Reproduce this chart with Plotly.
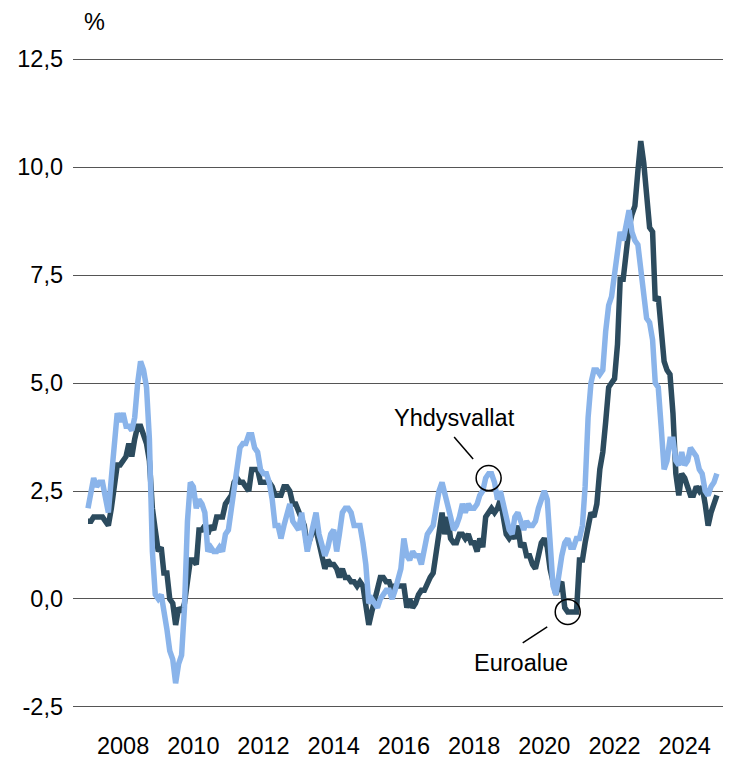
import pandas as pd
import plotly.graph_objects as go

# Monthly data, Jan 2007 - Dec 2024 (annual % change)
months = pd.date_range("2007-01-01", "2024-12-01", freq="MS")

euro_area = [
    1.8, 1.8, 1.9, 1.9, 1.9, 1.9, 1.8, 1.7, 2.1, 2.6, 3.1, 3.1,      # 2007
    3.2, 3.3, 3.6, 3.3, 3.7, 4.0, 4.0, 3.8, 3.6, 3.2, 2.1, 1.6,      # 2008
    1.1, 1.2, 0.6, 0.6, 0.0, -0.1, -0.6, -0.2, -0.3, -0.1, 0.5, 0.9, # 2009
    0.9, 0.8, 1.6, 1.6, 1.7, 1.5, 1.7, 1.6, 1.9, 1.9, 1.9, 2.2,      # 2010
    2.3, 2.4, 2.7, 2.8, 2.7, 2.7, 2.6, 2.5, 3.0, 3.0, 3.0, 2.7,      # 2011
    2.7, 2.7, 2.7, 2.6, 2.4, 2.4, 2.4, 2.6, 2.6, 2.5, 2.2, 2.2,      # 2012
    2.0, 1.8, 1.7, 1.2, 1.4, 1.6, 1.6, 1.3, 1.1, 0.7, 0.9, 0.8,      # 2013
    0.8, 0.7, 0.5, 0.7, 0.5, 0.5, 0.4, 0.4, 0.3, 0.4, 0.3, -0.2,     # 2014
    -0.6, -0.3, 0.0, 0.3, 0.5, 0.5, 0.4, 0.4, 0.2, 0.3, 0.3, 0.3,    # 2015
    0.3, -0.2, 0.0, -0.2, -0.1, 0.1, 0.2, 0.2, 0.4, 0.5, 0.6, 1.1,   # 2016
    1.7, 2.0, 1.5, 1.9, 1.4, 1.3, 1.3, 1.5, 1.5, 1.4, 1.5, 1.3,      # 2017
    1.3, 1.1, 1.4, 1.2, 1.9, 2.0, 2.1, 2.0, 2.1, 2.3, 1.9, 1.5,      # 2018
    1.4, 1.5, 1.4, 1.7, 1.2, 1.3, 1.0, 1.0, 0.8, 0.7, 1.0, 1.3,      # 2019
    1.4, 1.2, 0.7, 0.3, 0.1, 0.3, 0.4, -0.2, -0.3, -0.3, -0.3, -0.3, # 2020
    0.9, 0.9, 1.3, 1.6, 2.0, 1.9, 2.2, 3.0, 3.4, 4.1, 4.9, 5.0,      # 2021
    5.1, 5.9, 7.4, 7.4, 8.1, 8.6, 8.9, 9.1, 9.9, 10.6, 10.1, 9.2,    # 2022
    8.6, 8.5, 6.9, 7.0, 6.1, 5.5, 5.3, 5.2, 4.3, 2.9, 2.4, 2.9,      # 2023
    2.8, 2.6, 2.4, 2.4, 2.6, 2.5, 2.6, 2.2, 1.7, 2.0, 2.2, 2.4,      # 2024
]

united_states = [
    2.1, 2.4, 2.8, 2.6, 2.7, 2.7, 2.4, 2.0, 2.8, 3.5, 4.3, 4.1,      # 2007
    4.3, 4.0, 4.0, 3.9, 4.2, 5.0, 5.5, 5.3, 4.9, 3.7, 1.1, 0.1,      # 2008
    0.0, 0.1, -0.4, -0.7, -1.2, -1.4, -1.95, -1.5, -1.3, -0.2, 1.8, 2.7,  # 2009
    2.6, 2.1, 2.3, 2.2, 2.0, 1.1, 1.2, 1.1, 1.1, 1.2, 1.1, 1.5,      # 2010
    1.6, 2.1, 2.7, 3.2, 3.5, 3.6, 3.6, 3.8, 3.8, 3.5, 3.4, 3.0,      # 2011
    2.9, 2.9, 2.7, 2.3, 1.7, 1.7, 1.4, 1.7, 2.0, 2.2, 1.8, 1.7,      # 2012
    1.6, 2.0, 1.5, 1.1, 1.4, 1.8, 2.0, 1.5, 1.2, 1.0, 1.2, 1.5,      # 2013
    1.6, 1.1, 1.5, 2.0, 2.1, 2.1, 2.0, 1.7, 1.7, 1.7, 1.3, 0.8,      # 2014
    -0.1, 0.0, -0.1, -0.2, 0.0, 0.1, 0.2, 0.2, 0.0, 0.2, 0.5, 0.7,   # 2015
    1.4, 1.0, 0.9, 1.1, 1.0, 1.0, 0.8, 1.1, 1.5, 1.6, 1.7, 2.1,      # 2016
    2.5, 2.7, 2.4, 2.2, 1.9, 1.6, 1.7, 1.9, 2.2, 2.0, 2.2, 2.1,      # 2017
    2.1, 2.2, 2.4, 2.5, 2.8, 2.9, 2.9, 2.7, 2.3, 2.5, 2.2, 1.9,      # 2018
    1.6, 1.5, 1.9, 2.0, 1.8, 1.6, 1.8, 1.7, 1.7, 1.8, 2.1, 2.3,      # 2019
    2.5, 2.3, 1.5, 0.3, 0.1, 0.6, 1.0, 1.3, 1.4, 1.2, 1.2, 1.4,      # 2020
    1.4, 1.7, 2.6, 4.2, 5.0, 5.3, 5.3, 5.2, 5.3, 6.2, 6.8, 7.0,      # 2021
    7.5, 7.9, 8.5, 8.3, 8.6, 9.0, 8.5, 8.3, 8.2, 7.7, 7.1, 6.5,      # 2022
    6.4, 6.0, 5.0, 4.9, 4.0, 3.0, 3.2, 3.7, 3.7, 3.2, 3.1, 3.4,      # 2023
    3.1, 3.2, 3.5, 3.4, 3.3, 3.0, 2.9, 2.5, 2.4, 2.6, 2.7, 2.9,      # 2024
]

series_names = ["Euroalue", "Yhdysvallat"]
x_tick_years = [2008, 2010, 2012, 2014, 2016, 2018, 2020, 2022, 2024]
x_tick_labels = [str(y) for y in x_tick_years]
y_tick_values = [-2.5, 0.0, 2.5, 5.0, 7.5, 10.0, 12.5]
y_tick_labels = ["-2,5", "0,0", "2,5", "5,0", "7,5", "10,0", "12,5"]

DARK = "#2c4b5e"
LIGHT = "#8ab4ea"
FONT = "Liberation Sans, Arial, sans-serif"
FS = 23.5

fig = go.Figure()
fig.add_trace(go.Scatter(x=months, y=euro_area, mode="lines", name=series_names[0],
                         line=dict(color=DARK, width=5.5)))
fig.add_trace(go.Scatter(x=months, y=united_states, mode="lines", name=series_names[1],
                         line=dict(color=LIGHT, width=5.5)))

# Callout circles and leader lines anchored to data points
us_anchor = ("2018-06-01", 2.8)
ea_anchor = ("2020-09-01", -0.3)
shapes = [
    dict(type="circle", xref="x", yref="y", xsizemode="pixel", ysizemode="pixel",
         xanchor=us_anchor[0], yanchor=us_anchor[1], x0=-12.5, x1=12.5, y0=-12.5, y1=12.5,
         line=dict(color="black", width=1.5)),
    dict(type="line", xref="x", yref="y", xsizemode="pixel", ysizemode="pixel",
         xanchor=us_anchor[0], yanchor=us_anchor[1], x0=-34.5, y0=41, x1=-15.5, y1=19,
         line=dict(color="black", width=1.5)),
    dict(type="circle", xref="x", yref="y", xsizemode="pixel", ysizemode="pixel",
         xanchor=ea_anchor[0], yanchor=ea_anchor[1], x0=-12.5, x1=12.5, y0=-12.5, y1=12.5,
         line=dict(color="black", width=1.5)),
    dict(type="line", xref="x", yref="y", xsizemode="pixel", ysizemode="pixel",
         xanchor=ea_anchor[0], yanchor=ea_anchor[1], x0=-45, y0=-31, x1=-20.5, y1=-15,
         line=dict(color="black", width=1.5)),
]

# The page body has an 8 px margin, so the figure is drawn 8 px smaller
W, H = 723, 750
ML, MR, MT, MB = 65, 0, 49, 49
pw, ph = W - ML - MR, H - MT - MB

annotations = [
    dict(x=us_anchor[0], y=us_anchor[1], xref="x", yref="y", text=series_names[1],
         showarrow=False, xanchor="center", yanchor="middle", xshift=-34, yshift=60,
         font=dict(size=FS, color="black", family=FONT)),
    dict(x=ea_anchor[0], y=ea_anchor[1], xref="x", yref="y", text=series_names[0],
         showarrow=False, xanchor="center", yanchor="middle", xshift=-47, yshift=-51,
         font=dict(size=FS, color="black", family=FONT)),
    dict(x=(86 - ML) / pw, y=(H - MB - 14) / ph, xref="paper", yref="paper", text="%",
         showarrow=False, xanchor="center", yanchor="middle",
         font=dict(size=FS, color="black", family=FONT)),
]

fig.update_layout(
    width=W, height=H,
    margin=dict(l=ML, r=MR, t=MT, b=MB, pad=0, autoexpand=False),
    paper_bgcolor="white", plot_bgcolor="white",
    showlegend=False,
    font=dict(family=FONT, size=FS, color="black"),
    shapes=shapes,
    annotations=annotations,
    xaxis=dict(
        type="date",
        range=["2006-07-29", "2025-04-27"],
        tickvals=[f"{y}-01-01" for y in x_tick_years],
        ticktext=x_tick_labels,
        showgrid=False, zeroline=False, showline=False, ticks="",
        automargin=False,
        ticklabelstandoff=20,
        tickfont=dict(size=FS, color="black", family=FONT),
    ),
    yaxis=dict(
        range=[-2.5465, 12.5465],
        tickvals=y_tick_values,
        ticktext=y_tick_labels,
        showgrid=True, gridcolor="#555555", gridwidth=1.2,
        zeroline=False, showline=False, ticks="",
        automargin=False,
        ticklabelstandoff=9,
        tickfont=dict(size=FS, color="black", family=FONT),
    ),
)

fig.write_html("out.html")
